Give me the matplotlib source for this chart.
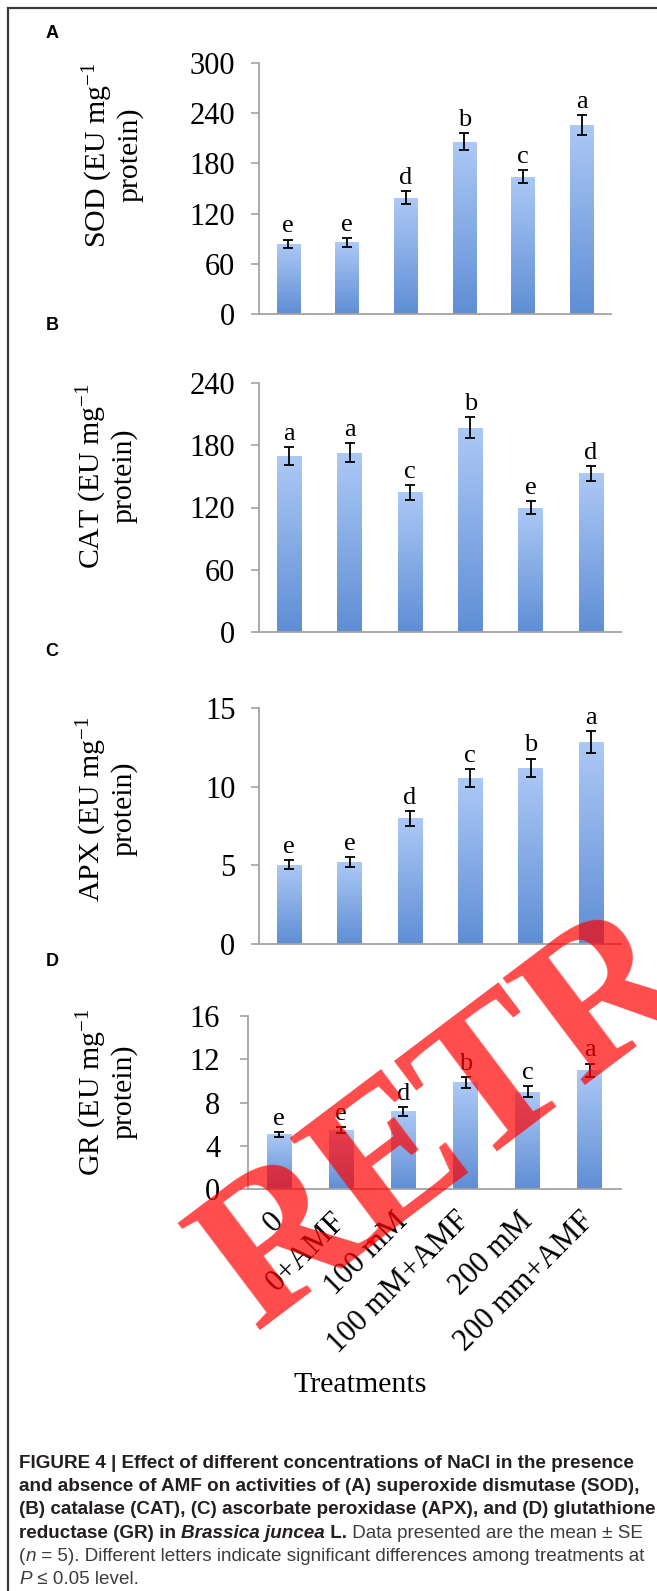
import numpy as np
import matplotlib
matplotlib.use("Agg")
import matplotlib.pyplot as plt
from matplotlib import font_manager
from matplotlib.text import Annotation
from matplotlib.colors import LinearSegmentedColormap

# ---------------- data ----------------
treatments = ["0", "0+AMF", "100 mM", "100 mM+AMF", "200 mM", "200 mm+AMF"]

sod = [84, 85.5, 139, 206, 164, 226]
sod_se = [5, 5, 8, 10, 8, 12]
sod_letters = ["e", "e", "d", "b", "c", "a"]

cat = [169.5, 172.8, 134.6, 196.8, 119.9, 152.9]
cat_se = [9, 9, 7, 10, 6, 7]
cat_letters = ["a", "a", "c", "b", "e", "d"]

apx = [5.05, 5.22, 7.98, 10.55, 11.19, 12.85]
apx_se = [0.27, 0.3, 0.45, 0.55, 0.6, 0.7]
apx_letters = ["e", "e", "d", "c", "b", "a"]

gr = [5.05, 5.48, 7.17, 9.88, 9.0, 11.0]
gr_se = [0.25, 0.28, 0.4, 0.5, 0.5, 0.6]
gr_letters = ["e", "e", "d", "b", "c", "a"]

ylabels = ["SOD (EU mg$^{-1}$\nprotein)", "CAT (EU mg$^{-1}$\nprotein)",
           "APX (EU mg$^{-1}$\nprotein)", "GR (EU mg$^{-1}$\nprotein)"]
panel_tags = ["A", "B", "C", "D"]
yticks_list = [[0, 60, 120, 180, 240, 300], [0, 60, 120, 180, 240],
               [0, 5, 10, 15], [0, 4, 8, 12, 16]]

watermark_letters = ["R", "E", "T", "R"]

# ---------------- setup ----------------
names = {f.name for f in font_manager.fontManager.ttflist}
SERIF = "Liberation Serif"
SANS = "Liberation Sans Narrow" if "Liberation Sans Narrow" in names else "Liberation Sans"
plt.rcParams["font.family"] = [SERIF, "DejaVu Serif"]
plt.rcParams["mathtext.fontset"] = "custom"
plt.rcParams["mathtext.rm"] = SERIF
plt.rcParams["mathtext.it"] = SERIF + ":italic"

W, H = 657, 1591
fig = plt.figure(figsize=(W / 100, H / 100), dpi=100)
fig.patch.set_facecolor("white")

cmap = LinearSegmentedColormap.from_list("bar", ["#5f8ed5", "#adc9f6"])
grad = np.linspace(0, 1, 256).reshape(-1, 1)

# axes boxes in pixels: left, right, top, bottom
boxes = [(259, 611, 63, 314), (259, 621, 383, 632), (259, 621, 708, 944), (248, 621, 1016, 1189)]
ylabel_pos = [(112, 155), (106, 476), (106, 809), (106, 1092)]
tag_pos = [(52, 34), (52, 326), (52, 652), (52, 961)]

datasets = [(sod, sod_se, sod_letters), (cat, cat_se, cat_letters),
            (apx, apx_se, apx_letters), (gr, gr_se, gr_letters)]

x = np.arange(len(treatments))
for i, ((l, r, t, b), (vals, se, lets)) in enumerate(zip(boxes, datasets)):
    ax = fig.add_axes([l / W, 1 - b / H, (r - l) / W, (b - t) / H])
    bars = ax.bar(x, vals, width=0.4, color="none", edgecolor="none", zorder=2)
    for rect in bars:
        im = ax.imshow(grad, extent=(rect.get_x(), rect.get_x() + rect.get_width(),
                                     0, rect.get_height()),
                       origin="lower", aspect="auto", cmap=cmap, zorder=2)
        im.set_clip_path(rect)
    ax.errorbar(x, vals, yerr=se, fmt="none", ecolor="black", elinewidth=1.3,
                capsize=3.5, capthick=1.3, zorder=3)
    for xi, v, s, lt in zip(x, vals, se, lets):
        ax.annotate(lt, (xi, v + s), xytext=(0, 1.5), textcoords="offset points",
                    ha="center", va="bottom", fontsize=19, family=SERIF, zorder=4)
    yt = yticks_list[i]
    ax.set_xlim(-0.5, len(treatments) - 0.5)
    ax.set_ylim(yt[0], yt[-1])
    ax.set_yticks(yt)
    ax.set_yticklabels([str(v) for v in yt])
    for s in ["top", "right"]:
        ax.spines[s].set_visible(False)
    for s in ["left", "bottom"]:
        ax.spines[s].set_color("#a3a3a3")
        ax.spines[s].set_linewidth(1.3)
    ax.tick_params(axis="y", direction="out", length=6, width=1.2, color="#a3a3a3",
                   labelsize=22, pad=11 if i < 3 else 14)
    ax.set_xticks(x)
    if i < 3:
        ax.tick_params(axis="x", length=0, labelbottom=False)
    else:
        ax.tick_params(axis="x", length=0, pad=20)
        ax.set_xticklabels(treatments, rotation=45, ha="right", va="center",
                           rotation_mode="anchor", fontsize=22)
    fig.text(ylabel_pos[i][0] / W, 1 - ylabel_pos[i][1] / H, ylabels[i], rotation=90,
             ha="center", va="center", multialignment="center", fontsize=21.5,
             linespacing=1.05)
    fig.text(tag_pos[i][0] / W, 1 - tag_pos[i][1] / H, panel_tags[i], ha="center",
             va="center", fontsize=13, weight="bold", family="Liberation Sans")

fig.text(360 / W, 1 - 1385 / H, "Treatments", ha="center", va="center", fontsize=21.5)

# frame
fig.add_artist(plt.Rectangle((8 / W, -0.01), 1.1, 1 - 8 / H + 0.01, transform=fig.transFigure,
                             fill=False, edgecolor="#3a3a3a", linewidth=1.6, zorder=1))

# ---------------- caption ----------------
bold_c = "#231f20"
reg_c = "#3c3c3c"
lines = [
    [("FIGURE 4 | Effect of different concentrations of NaCl in the presence", "bold", "normal")],
    [("and absence of AMF on activities of (A) superoxide dismutase (SOD),", "bold", "normal")],
    [("(B) catalase (CAT), (C) ascorbate peroxidase (APX), and (D) glutathione", "bold", "normal")],
    [("reductase (GR) in ", "bold", "normal"), ("Brassica juncea", "bold", "italic"),
     (" L.", "bold", "normal"), (" Data presented are the mean \u00b1 SE", "normal", "normal")],
    [("(", "normal", "normal"), ("n", "normal", "italic"),
     (" = 5). Different letters indicate significant differences among treatments at", "normal", "normal")],
    [("P", "normal", "italic"), (" \u2264 0.05 level.", "normal", "normal")],
]

renderer = fig.canvas.get_renderer()
probe = fig.text(0, 0, lines[2][0][0], fontsize=13, weight="bold", family=SANS)
wpx = probe.get_window_extent(renderer).width
probe.remove()
cap_fs = 13 * 632 / wpx

y0 = 1461
dy = 23.4
for k, segs in enumerate(lines):
    yc = y0 + k * dy
    txt, wt, st = segs[0]
    prev = fig.text(19 / W, 1 - (yc + 6.5) / H, txt, ha="left", va="baseline",
                    fontsize=cap_fs, weight=wt, style=st, family=SANS,
                    color=bold_c if wt == "bold" else reg_c)
    for txt, wt, st in segs[1:]:
        ann = Annotation(txt, xy=(1, 0), xycoords=prev, xytext=(0, 0),
                         textcoords="offset points", ha="left", va="bottom",
                         fontsize=cap_fs, weight=wt, style=st, family=SANS,
                         color=bold_c if wt == "bold" else reg_c)
        fig.add_artist(ann)
        prev = ann

# ---------------- watermark (letters laid along a 37 deg baseline) ----------------
ang = 37.0
ux, uy = np.cos(np.radians(ang)), -np.sin(np.radians(ang))   # pixel coords, y down
ox, oy = 255.0, 1331.0
offsets = [0, 141, 271, 407]
for letter, s in zip(watermark_letters, offsets):
    px, py = ox + s * ux, oy + s * uy
    fig.text(px / W, 1 - py / H, letter, rotation=ang, rotation_mode="anchor",
             ha="left", va="baseline", fontsize=148, weight="bold", family=SERIF,
             color="red", alpha=0.7, zorder=100)

fig.savefig("out.png", dpi=100, facecolor="white")
